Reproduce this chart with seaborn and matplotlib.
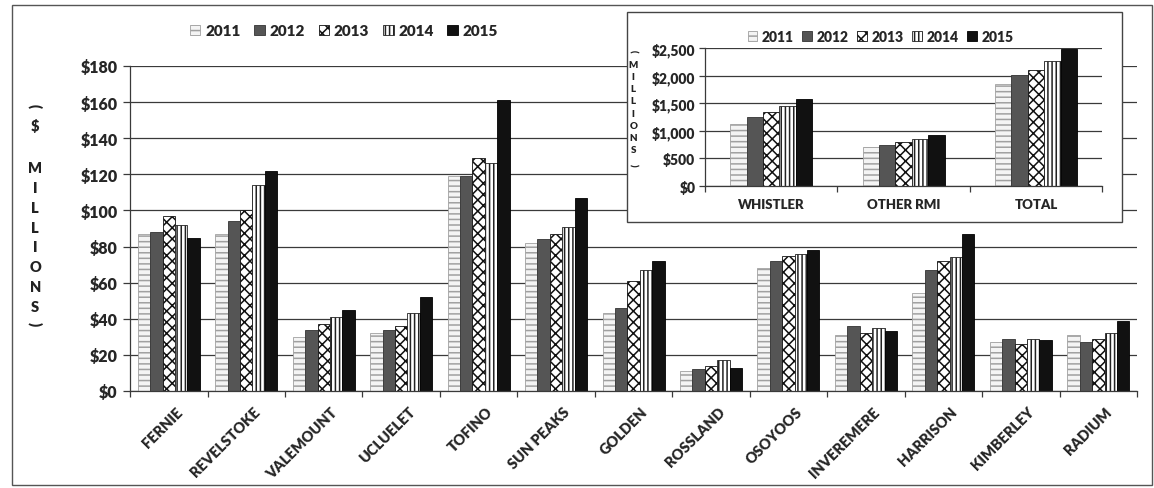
import numpy as np
import pandas as pd
import matplotlib
matplotlib.use("Agg")
import matplotlib.pyplot as plt
import matplotlib.transforms as mtrans
import seaborn as sns
from matplotlib.patches import Patch, Rectangle
from matplotlib.ticker import FuncFormatter, FixedLocator

# --- data ---
years = ["2011", "2012", "2013", "2014", "2015"]
towns = ["FERNIE", "REVELSTOKE", "VALEMOUNT", "UCLUELET", "TOFINO", "SUN PEAKS",
         "GOLDEN", "ROSSLAND", "OSOYOOS", "INVEREMERE", "HARRISON", "KIMBERLEY", "RADIUM"]
v2011 = [87, 87, 30, 32, 119, 82, 43, 11, 68, 31, 54, 27, 31]
v2012 = [88, 94, 34, 34, 119, 84, 46, 12, 72, 36, 67, 29, 27]
v2013 = [97, 100, 37, 36, 129, 87, 61, 14, 75, 32, 72, 26, 29]
v2014 = [92, 114, 41, 43, 126, 91, 67, 17, 76, 35, 74, 29, 32]
v2015 = [85, 122, 45, 52, 161, 107, 72, 13, 78, 33, 87, 28, 39]

regions = ["WHISTLER", "OTHER RMI", "TOTAL"]
r2011 = [1120, 710, 1850]
r2012 = [1245, 740, 2015]
r2013 = [1335, 800, 2110]
r2014 = [1455, 850, 2275]
r2015 = [1580, 920, 2490]

# bar styles per year (grayscale, hatched like the printed Excel chart)
styles = {
    "2011": dict(facecolor="#f4f4f4", edgecolor="#a0a0a0", hatch="---"),
    "2012": dict(facecolor="#555555", edgecolor="#333333", hatch=None),
    "2013": dict(facecolor="white", edgecolor="#111111", hatch="xxx"),
    "2014": dict(facecolor="white", edgecolor="#222222", hatch="||||"),
    "2015": dict(facecolor="#111111", edgecolor="#000000", hatch=None),
}

main_df = pd.DataFrame({
    "town": np.tile(towns, len(years)),
    "year": np.repeat(years, len(towns)),
    "value": v2011 + v2012 + v2013 + v2014 + v2015,
})
inset_df = pd.DataFrame({
    "region": np.tile(regions, len(years)),
    "year": np.repeat(years, len(regions)),
    "value": r2011 + r2012 + r2013 + r2014 + r2015,
})

sns.set_style("white")
plt.rcParams["font.family"] = ["Lato", "DejaVu Sans"]
plt.rcParams["font.weight"] = "heavy"
plt.rcParams["hatch.linewidth"] = 1.1

fig = plt.figure(figsize=(11.54, 4.89), dpi=100)
fig.patch.set_facecolor("white")

grid_kw = dict(color="#3a3a3a", linewidth=0.9)
WT = "heavy"


def style_bars(ax):
    for year, cont in zip(years, ax.containers):
        for bar in cont:
            st = styles[year]
            bar.set_facecolor(st["facecolor"])
            bar.set_edgecolor(st["edgecolor"])
            bar.set_linewidth(0.6)
            if st["hatch"]:
                bar.set_hatch(st["hatch"])


def legend_handles():
    hs = []
    for y in years:
        st = styles[y]
        hs.append(Patch(facecolor=st["facecolor"], edgecolor=st["edgecolor"],
                        hatch=st["hatch"], linewidth=0.6, label=y))
    return hs


# --- main chart ---
ax = fig.add_axes([0.1127, 0.1984, 0.8726, 0.6646])
sns.barplot(data=main_df, x="town", y="value", hue="year", hue_order=years,
            width=0.8, saturation=1, ax=ax, legend=False)
style_bars(ax)
ax.set_ylim(0, 180)
ax.set_xlim(-0.5, len(towns) - 0.5)
ax.yaxis.set_major_locator(FixedLocator(np.arange(0, 181, 20)))
ax.yaxis.set_major_formatter(FuncFormatter(lambda v, p: f"${v:,.0f}"))
ax.grid(axis="y", **grid_kw)
ax.set_axisbelow(True)
ax.set_xlabel("")
ax.set_ylabel("")
for s in ["top", "right"]:
    ax.spines[s].set_visible(False)
for s in ["left", "bottom"]:
    ax.spines[s].set_color("#3a3a3a")
    ax.spines[s].set_linewidth(0.9)
ax.tick_params(axis="y", direction="out", length=5, width=0.9, color="#3a3a3a",
               labelsize=11.5, pad=4, left=True)
ax.xaxis.set_minor_locator(FixedLocator(np.arange(-0.5, len(towns), 1)))
ax.tick_params(axis="x", which="major", length=0, pad=4)
ax.tick_params(axis="x", which="minor", direction="out", length=4, width=0.9,
               color="#3a3a3a", bottom=True)
ax.set_xticks(range(len(towns)))
ax.set_xticklabels(towns, rotation=45, ha="right", rotation_mode="anchor",
                   fontsize=10.5, fontweight=WT)
for lbl in ax.get_xticklabels():
    lbl.set_transform(lbl.get_transform() + mtrans.ScaledTranslation(
        0.07, -0.08, fig.dpi_scale_trans))
for lbl in ax.get_yticklabels():
    lbl.set_fontweight(WT)

fig.legend(handles=legend_handles(), loc="center", bbox_to_anchor=(0.298, 0.935),
           ncol=5, frameon=False, handlelength=0.7,
           handleheight=0.7, handletextpad=0.3, columnspacing=0.9,
           prop=dict(weight=WT, size=11))

# stacked y label "($ MILLIONS)"
lab_kw = dict(ha="center", va="center", fontsize=10.5, fontweight=WT, color="#222222")
fig.text(0.0305, 1 - 106 / 489, "(", rotation=-90, **lab_kw)
fig.text(0.0305, 1 - 126 / 489, "$", **lab_kw)
fig.text(0.0305, 1 - 238 / 489, "\n".join("MILLIONS"), linespacing=1.62, **lab_kw)
fig.text(0.0305, 1 - 324 / 489, ")", rotation=-90, **lab_kw)

# --- inset box ---
box = Rectangle((0.5433, 0.544), 0.429, 0.4294, transform=fig.transFigure,
                facecolor="white", edgecolor="#444444", linewidth=1.0, zorder=1)
fig.patches.append(box)

ax2 = fig.add_axes([0.611, 0.618, 0.344, 0.281], zorder=2)
sns.barplot(data=inset_df, x="region", y="value", hue="year", hue_order=years,
            width=0.62, saturation=1, ax=ax2, legend=False)
style_bars(ax2)
ax2.set_facecolor("white")
ax2.set_ylim(0, 2500)
ax2.set_xlim(-0.5, len(regions) - 0.5)
ax2.yaxis.set_major_locator(FixedLocator(np.arange(0, 2501, 500)))
ax2.yaxis.set_major_formatter(FuncFormatter(lambda v, p: f"${v:,.0f}"))
ax2.grid(axis="y", **grid_kw)
ax2.set_axisbelow(True)
ax2.set_xlabel("")
ax2.set_ylabel("")
for s in ["top", "right"]:
    ax2.spines[s].set_visible(False)
for s in ["left", "bottom"]:
    ax2.spines[s].set_color("#3a3a3a")
    ax2.spines[s].set_linewidth(0.9)
ax2.tick_params(axis="y", direction="out", length=4, width=0.9, color="#3a3a3a",
                labelsize=10, pad=3, left=True)
ax2.xaxis.set_minor_locator(FixedLocator(np.arange(-0.5, len(regions), 1)))
ax2.tick_params(axis="x", which="major", length=0, pad=9, labelsize=9.5)
ax2.tick_params(axis="x", which="minor", direction="out", length=4, width=0.9,
                color="#3a3a3a", bottom=True)
for lbl in ax2.get_xticklabels() + ax2.get_yticklabels():
    lbl.set_fontweight(WT)

fig.legend(handles=legend_handles(), loc="center", bbox_to_anchor=(0.763, 0.924),
           ncol=5, frameon=False, handlelength=0.7, handleheight=0.7,
           handletextpad=0.3, columnspacing=0.65,
           prop=dict(weight=WT, size=10))

ilab_kw = dict(ha="center", va="center", fontsize=7, fontweight=WT, color="#222222")
fig.text(0.5487, 1 - 51 / 489, "(", rotation=-90, **ilab_kw)
fig.text(0.5487, 1 - 108 / 489, "\n".join("MILLIONS"), linespacing=1.45, **ilab_kw)
fig.text(0.5487, 1 - 165 / 489, ")", rotation=-90, **ilab_kw)

# outer border of the whole chart
outer = Rectangle((0.0105, 0.006), 0.988, 0.982, transform=fig.transFigure,
                  facecolor="none", edgecolor="#555555", linewidth=1.0, zorder=0)
fig.patches.append(outer)

fig.savefig("out.png", dpi=100, facecolor="white")
